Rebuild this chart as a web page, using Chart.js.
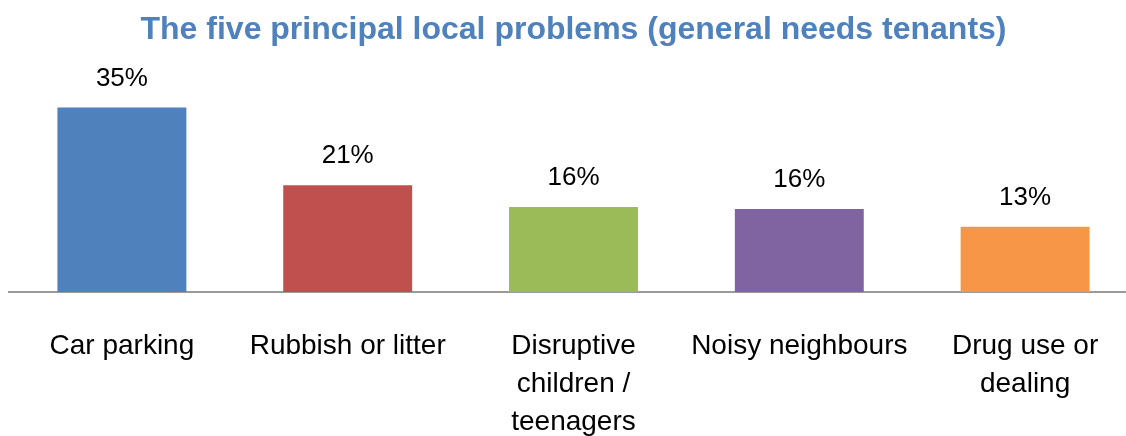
<!DOCTYPE html>
<html>
<head>
<meta charset="utf-8">
<script src="https://cdn.jsdelivr.net/npm/chart.js@4/dist/chart.umd.min.js"></script>
<style>
  html, body { margin: 0; padding: 0; background: #fff; overflow: hidden; }
  #wrap { width: 1140px; height: 436px; }
</style>
</head>
<body>
<div id="wrap"><canvas id="barChart"></canvas></div>
<script>
// chart data
const categories = [
    'Car parking',
    'Rubbish or litter',
    ['Disruptive', 'children /', 'teenagers'],
    'Noisy neighbours',
    ['Drug use or', 'dealing']
];
const shares = [35.4, 20.5, 16.3, 15.9, 12.5];
const barColors = ['#4F81BD', '#C0504D', '#9BBB59', '#8064A2', '#F79646'];
const chartTitle = 'The five principal local problems (general needs tenants)';

// draws the % value above each bar
const valueLabels = {
    id: 'valueLabels',
    afterDatasetsDraw(chart) {
        const ctx = chart.ctx;
        const meta = chart.getDatasetMeta(0);
        ctx.save();
        ctx.font = '26px "Liberation Sans", Arial, sans-serif';
        ctx.fillStyle = '#000';
        ctx.textAlign = 'center';
        ctx.textBaseline = 'middle';
        meta.data.forEach((bar, i) => {
            ctx.fillText(Math.round(shares[i]) + '%', bar.x, bar.y - 29);
        });
        ctx.restore();
    }
};

const ctx = document.getElementById('barChart').getContext('2d');
new Chart(ctx, {
    type: 'bar',
    data: {
        labels: categories,
        datasets: [{
            data: shares,
            backgroundColor: barColors,
            borderWidth: 0,
            barPercentage: 0.571,
            categoryPercentage: 1
        }]
    },
    options: {
        responsive: true,
        maintainAspectRatio: false,
        animation: false,
        layout: { padding: { left: 9, right: 2, top: 0, bottom: 0 } },
        plugins: {
            legend: { display: false },
            tooltip: { enabled: false },
            title: {
                display: true,
                text: chartTitle,
                color: '#4F81BD',
                font: { family: '"Liberation Sans", Arial, sans-serif', size: 32, weight: 'bold', lineHeight: 1.2 },
                padding: { top: 11, bottom: 8 }
            }
        },
        scales: {
            y: {
                display: false,
                min: 0,
                max: 45
            },
            x: {
                grid: { display: false },
                border: { display: true, color: '#9a9a9a', width: 2 },
                afterFit(scale) { scale.height = 144; },
                ticks: {
                    color: '#000',
                    autoSkip: false,
                    maxRotation: 0,
                    padding: 27,
                    font: { family: '"Liberation Sans", Arial, sans-serif', size: 28, lineHeight: 1.36 }
                }
            }
        }
    },
    plugins: [valueLabels]
});
</script>
</body>
</html>
